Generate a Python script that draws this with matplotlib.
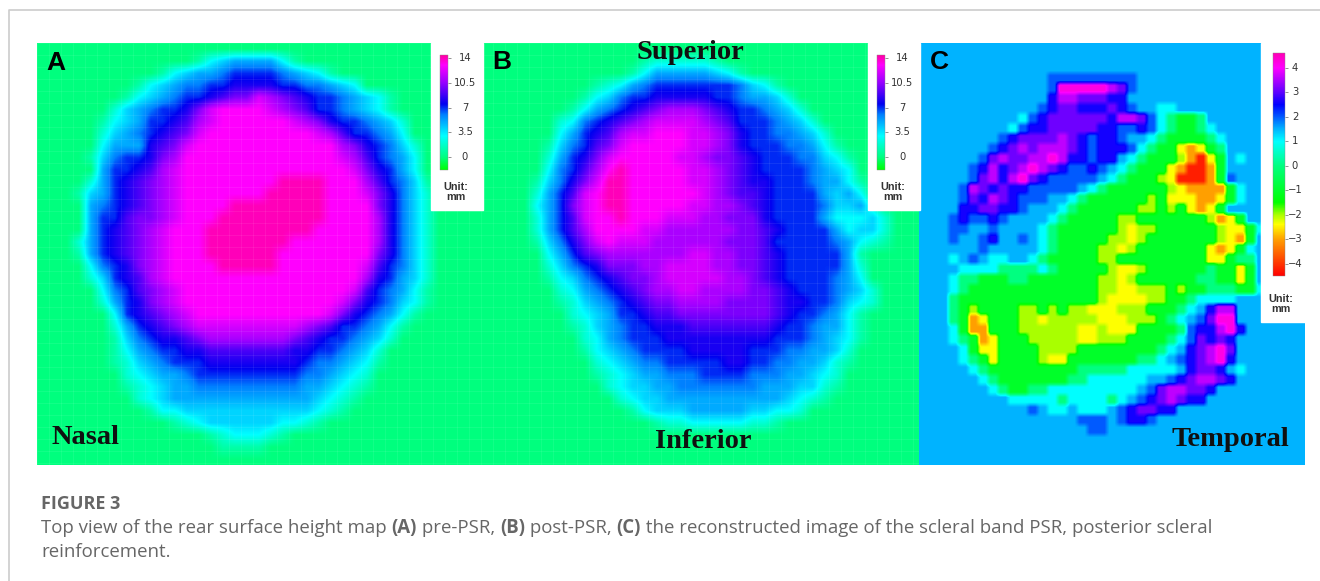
import numpy as np
import matplotlib
matplotlib.use("Agg")
import matplotlib.pyplot as plt
from matplotlib.colors import LinearSegmentedColormap, Normalize
from matplotlib.cm import ScalarMappable
from matplotlib.patches import Rectangle

# height maps, one hex-like digit per cell (0..e = 0..14 mm)
height_pre = [
    "",
    "0000000000000134555531",
    "0000000000134556777765431",
    "000000001345667788887766543",
    "0000000134567789aacba987765431",
    "0000002456778acddddcba97765431",
    "0000013457789bcddddddcba8776542",
    "000002456789acdddddddddcb977653",
    "00000355589acddddddddddddba87642",
    "0000146778abdddddddddddddcb97653",
    "0000057789bcddddddddddddddca8753",
    "000025789abcddddddddeeeedddb97641",
    "000145789abcdddddddeeeeedddca8642",
    "000056789abcddddeeeeeeeedddda8642",
    "00005779aabcdddeeeeeeeeeddddb8642",
    "00005789abcdddeeeeeeeeedddddb8642",
    "00025789abcdddeeeeeeedddddddb8642",
    "00015789abcdddeeeeeedddddddda8642",
    "00003678abcddddeeeeedddddddc97642",
    "000024789bcddddddddddddddddb87542",
    "000003679abcddddddddddddddc976531",
    "000002578abcdddddddddddddca876431",
    "0000003789abcdddddddddddca876531",
    "00000025789abcccccccccba97765310",
    "0000001467889abbbbbbba98776542",
    "00000013567788999999988776542",
    "00000012456777888888887665431",
    "0000000234556777777777665432",
    "0000000123455666666666554321",
    "000000002345555555555554321",
    "00000000013344444444444321",
    "000000000001234444443321",
    "000000000000001233321",
    "0000000000000001111",
    "",
]

height_post = [
    "",
    "00000000000001222221",
    "0000000000001355555431",
    "0000000001235677777776431",
    "00000000134677888887765542",
    "00000001356789abbba98776542",
    "000000236789abccccba97776542",
    "00000035789bccdddccba87766542",
    "0000014679acdddddccba877766531",
    "000002578acdddddccbaa9877766431",
    "000003679bdedddddccba9877776543",
    "00001468aceedddddccba98877765531",
    "00002579cdeeddddddcba99877775453",
    "0000357acdeedddddccbba98777764452",
    "00002579cddedddcccbbaaa87777533342",
    "00002579bddddccbbbbbbaa98777753442",
    "00001468acdcccbbbbbbaaa97777765321",
    "000003579abbbbbbbccbbaa987777751",
    "0000024678aaabbccccbbaa987777752",
    "000001346789aabcccccbba987777653",
    "0000002356789abbccbbbbaa987776542",
    "00000012456789aabbbbaaaa988776432",
    "0000000234577899aaaaaaaa98776531",
    "00000001245677888999999987765531",
    "00000000235677788888888877765431",
    "0000000013456777788888777665542",
    "0000000002345667777788776655421",
    "000000000123455666777766655432",
    "000000000023445566666665554421",
    "00000000000234455555555554321",
    "000000000000134445555544332",
    "0000000000000012233333221",
    "",
    "",
    "",
]

# difference map, one letter per cell, meaning of the letters in change_levels
change_rows = [
    "",
    "",
    "",
    ".............bbbbbbbbb",
    ".............bmmmmmvpb",
    ".............dvvpppdd",
    "............bdppdddpdb..cc",
    "..........cbdppppppdvvpbchggh",
    ".........cbddpppppddbbdbchgghc",
    "........bdppppvpdbddb..chgggghc",
    ".......bdpvpvvvpdbdddbchggyoygh",
    "......bpvppvvmvddbdd.chgggloryg.c",
    ".....bdvdpvmvpdbbdb.chgggyorrog.",
    ".....bpvdvmpdbbbbb.chggglyrrrogb",
    "....bvpdpddbbbbb.chgggggglyoooogc",
    "....bpdvpdbbb..chgggggglgyyyooygc",
    "....ddppddb...chggggggllglgyoyg",
    "...bdbbdb....chgggggllgggggggloyg",
    "...bb..b....chgggggglyllgggggglyygc",
    "...b..bd..b.chgggggllylggggggglyog",
    "......b.....chggggllylgggggggyoygc",
    "...c.b.cc..chgggggllgggggggggyyghh",
    "....cccchhhhchggggglyylgggggghggyg",
    "...chhggghhgggggggllylgggggghhggyg",
    "...chgggggggggggggllyylllglgghhhggc",
    "...hgggggggggggggglyyyyllgghcccc",
    "...hglggggllglgllyyylllggghc.dvv",
    "...hgoygggllylllllyyylllghc.bpmm",
    "...cgoogggllllllyylyyygggghbddvmd",
    "...chgoyggglllllyylllgggghcbpdpd",
    "....cgyyggggllllgggggggghc.dpvmp",
    "....chgygggglyyggggggghhc.bdpvmd",
    ".....chggggggggghhhhhccccc.dppd.c",
    "......chggggggghhcccccc..bdpvvpd",
    ".......chgghhccccccccc.bpvvppd",
    ".........ccccchcccchc.bdpvpdd",
    "...........b.cc.ccc.bdppdd",
    "................bbb.bddb",
    ".................bb",
    "",
    "",
    "",
]
change_levels = {".": 1.5, "c": 1.0, "h": 0.0, "g": -1.0, "l": -2.0, "y": -2.4,
                 "o": -3.0, "r": -4.2, "b": 2.0, "d": 2.6, "p": 3.1, "v": 3.6, "m": 4.2}

height_ticks = [14, 10.5, 7, 3.5, 0]
height_tick_labels = ["14", "10.5", "7", "3.5", "0"]
change_ticks = [4, 3, 2, 1, 0, -1, -2, -3, -4]
change_tick_labels = ["4", "3", "2", "1", "0", "\u22121", "\u22122", "\u22123", "\u22124"]


def anchors_to_cmap(anchors):
    lo, hi = anchors[0][0], anchors[-1][0]
    pts = [((v - lo) / (hi - lo), c) for v, c in anchors]
    return LinearSegmentedColormap.from_list("m", pts, N=512), Normalize(lo, hi)


height_cmap, height_norm = anchors_to_cmap([
    (-1.8, "#00ff00"), (0, "#00ff80"), (3.0, "#00ffff"), (6, "#0080ff"), (7.5, "#0000f0"),
    (10.5, "#9600ff"), (13, "#ff00ff"), (14.4, "#ff00a0")])
change_cmap, change_norm = anchors_to_cmap([
    (-4.5, "#ff0000"), (-3, "#ffa000"), (-2.4, "#ffff00"), (-2, "#a8ff00"), (-1.5, "#00ff00"),
    (0, "#00ff80"), (1, "#00ffff"), (1.5, "#00b4ff"), (2.5, "#0000ff"), (3.1, "#6e00ff"),
    (4, "#ff00ff"), (4.6, "#ff00b4")])


def digits_to_grid(rows, n_cols):
    return np.array([[int(ch, 16) for ch in r.ljust(n_cols, "0")[:n_cols]]
                     for r in rows], dtype=float)


def letters_to_grid(rows, n_cols):
    return np.array([[change_levels[ch] for ch in r.ljust(n_cols, ".")[:n_cols]]
                     for r in rows], dtype=float)


def blocky(grid, k):
    return np.repeat(np.repeat(grid, k, axis=0), k, axis=1)


W, H = 1320, 581
fig = plt.figure(figsize=(W / 100, H / 100), dpi=100)
ax = fig.add_axes([0, 0, 1, 1])

ax.plot([9, 9, W], [H, 10, 10], color="#cccccc", lw=1.2)

grid_a = digits_to_grid(height_pre, 38)
grid_b = digits_to_grid(height_post, 37)
grid_c = letters_to_grid(change_rows, 39)

ax.imshow(grid_a, cmap=height_cmap, norm=height_norm, interpolation="bilinear",
          extent=(37, 493, 465, 43), aspect="auto", zorder=1)
ax.imshow(grid_b, cmap=height_cmap, norm=height_norm, interpolation="bilinear",
          extent=(483, 927, 465, 43), aspect="auto", zorder=2)
ax.imshow(blocky(grid_c, 2), cmap=change_cmap, norm=change_norm, interpolation="bilinear",
          extent=(919, 1305, 465, 43), aspect="auto", zorder=3)
# faint cell lines of the scan grid
ax.vlines(np.arange(37, 919, 12), 43, 465, color="white", lw=0.8, alpha=0.07, zorder=2.5)
ax.hlines(np.arange(43, 465, 12), 37, 919, color="white", lw=0.8, alpha=0.07, zorder=2.5)
ax.set_xlim(0, W)
ax.set_ylim(H, 0)
ax.axis("off")

# legend backgrounds
ax.add_patch(Rectangle((431, 43), 52, 167, color="white", zorder=5))
ax.add_patch(Rectangle((868, 43), 52, 167, color="white", zorder=5))
ax.add_patch(Rectangle((1261, 43), 45, 279, color="white", zorder=5))


def add_bar(x0, x1, y0, y1, cmap, norm, ticks, labels, label_x):
    cax = fig.add_axes([x0 / W, 1 - y1 / H, (x1 - x0) / W, (y1 - y0) / H], zorder=10)
    cb = fig.colorbar(ScalarMappable(norm=norm, cmap=cmap), cax=cax)
    cb.outline.set_linewidth(0.3)
    cb.outline.set_edgecolor("#888888")
    cb.set_ticks(ticks)
    cb.set_ticklabels([])
    cax.tick_params(length=2, width=0.5, color="#666666")
    for t, lab in zip(ticks, labels):
        y = y1 - (t - norm.vmin) / (norm.vmax - norm.vmin) * (y1 - y0)
        ax.text(label_x, y, lab, ha="center", va="center", fontsize=7.2, color="#333333",
                family="Liberation Sans Narrow", zorder=10)


add_bar(440, 448, 55, 170, height_cmap, height_norm, height_ticks, height_tick_labels, 465)
add_bar(877, 885, 55, 170, height_cmap, height_norm, height_ticks, height_tick_labels, 902)
add_bar(1273, 1285, 53, 276, change_cmap, change_norm, change_ticks, change_tick_labels, 1295)

for x, y in [(456, 192), (893, 192), (1281, 304)]:
    ax.text(x, y, "Unit:\nmm", ha="center", va="center", fontsize=7.8, color="#333333",
            family="Liberation Sans", weight="bold", linespacing=1.05, zorder=10)

for x, y, s in [(46, 70, "A"), (492, 69, "B"), (930, 69, "C")]:
    ax.text(x, y, s, fontsize=19, weight="bold", family="Liberation Sans", color="black", zorder=10)

for x, y, s in [(52, 444, "Nasal"), (655, 448, "Inferior"), (1172, 446, "Temporal")]:
    ax.text(x, y, s, fontsize=20.5, weight="bold", family="Liberation Serif", color="#101010", zorder=10)
sup = ax.text(636, 59, "Superior", fontsize=20.5, weight="bold", family="Liberation Serif",
              color="#101010", zorder=10)
sup.set_clip_path(Rectangle((600, 43), 200, 30, transform=ax.transData))

# caption
cap_color = "#666666"
cap_font = "Open Sans"
cap_size = 13.4
ax.text(41, 509, "FIGURE 3", fontsize=13, weight="bold", family=cap_font, color=cap_color)
line_parts = [("Top view of the rear surface height map ", "normal"), ("(A)", "bold"), (" pre-PSR, ", "normal"),
              ("(B)", "bold"), (" post-PSR, ", "normal"), ("(C)", "bold"),
              (" the reconstructed image of the scleral band PSR, posterior scleral", "normal")]
renderer = fig.canvas.get_renderer()
x = 41.0
for s, w in line_parts:
    t = ax.text(x, 533, s.replace(" ", "\u00a0"), fontsize=cap_size, weight=w, family=cap_font, color=cap_color)
    x += t.get_window_extent(renderer).width
ax.text(41, 557, "reinforcement.", fontsize=cap_size, family=cap_font, color=cap_color)

fig.savefig("out.png", dpi=100)
